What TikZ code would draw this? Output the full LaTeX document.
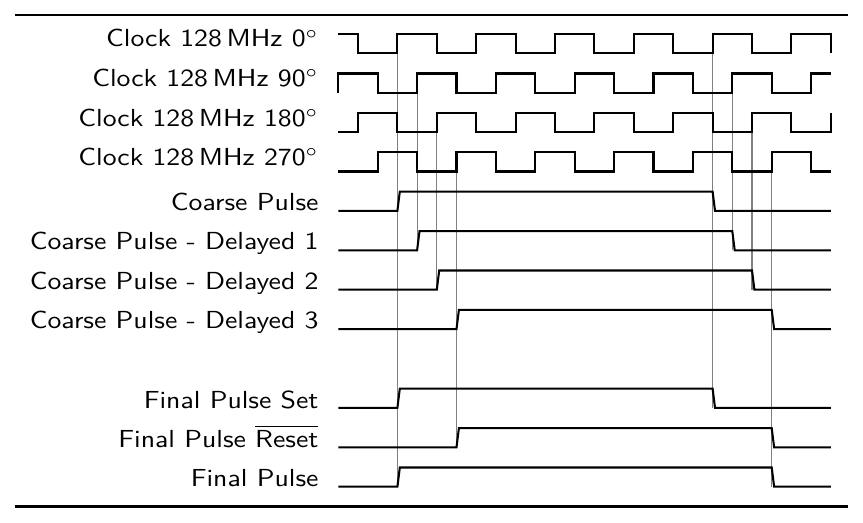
\documentclass[tikz,border=0pt]{standalone}
\usepackage{graphicx}
\begin{document}
\begin{tikzpicture}[x=0.365pt,y=-0.365pt,
  declare function={X(\k)=338.3+19.7*\k; L(\r)=53.3+39.4*\r; H(\r)=53.3+39.4*\r-19.2;},
  sig/.style={line width=0.75pt,line join=miter},
  guide/.style={line width=0.38pt,draw=black!50},
  rulet/.style={line width=0.75pt},
  ruleb/.style={line width=1pt},
  lab/.style={anchor=base east,inner sep=0pt,font=\sffamily}]
\useasboundingbox (0,0) rectangle (863,522);
\newcommand\squish[1]{\scalebox{1.013}[0.9]{#1}}
\newcommand\drawpulse[3]{\draw[sig] ({X(0)},{L(#1)}) -- ({X(#2)},{L(#1)}) -- ({X(#2)+2.4},{H(#1)}) -- ({X(#3)},{H(#1)}) -- ({X(#3)+2.4},{L(#1)}) -- ({X(25)},{L(#1)});}
% rules
\coordinate (tl) at (15,15); \coordinate (tr) at (848,15);
\coordinate (bl) at (15,506.3); \coordinate (br) at (848,506.3);
\draw[rulet] (tl) -- (tr);
\draw[ruleb] (bl) -- (br);
% guide lines
\draw[guide] ({X(3)},{L(0)}) -- ({X(3)},{L(11)});
\draw[guide] ({X(4)},{L(1)}) -- ({X(4)},{L(5)});
\draw[guide] ({X(5)},{L(2)}) -- ({X(5)},{L(6)});
\draw[guide] ({X(6)},{L(3)}) -- ({X(6)},{L(10)});
\draw[guide] ({X(19)},{L(0)}) -- ({X(19)},{L(9)});
\draw[guide] ({X(20)},{L(1)}) -- ({X(20)},{L(5)});
\draw[guide] ({X(21)},{L(2)}) -- ({X(21)},{L(6)});
\draw[guide] ({X(22)},{L(3)}) -- ({X(22)},{L(11)});
% clocks
\draw[sig] ({X(0)},{H(0)}) \foreach \k in {1,5,...,21} { -- ({X(\k)},{H(0)}) -- ({X(\k)},{L(0)}) -- ({X(\k+2)},{L(0)}) -- ({X(\k+2)},{H(0)}) } -- ({X(25)},{H(0)}) -- ({X(25)},{L(0)});
\draw[sig] ({X(0)},{L(1)}) -- ({X(0)},{H(1)}) \foreach \k in {2,6,...,22} { -- ({X(\k)},{H(1)}) -- ({X(\k)},{L(1)}) -- ({X(\k+2)},{L(1)}) -- ({X(\k+2)},{H(1)}) } -- ({X(25)},{H(1)});
\draw[sig] ({X(0)},{L(2)}) \foreach \k in {1,5,...,21} { -- ({X(\k)},{L(2)}) -- ({X(\k)},{H(2)}) -- ({X(\k+2)},{H(2)}) -- ({X(\k+2)},{L(2)}) } -- ({X(25)},{L(2)}) -- ({X(25)},{H(2)});
\draw[sig] ({X(0)},{L(3)}) \foreach \k in {2,6,...,22} { -- ({X(\k)},{L(3)}) -- ({X(\k)},{H(3)}) -- ({X(\k+2)},{H(3)}) -- ({X(\k+2)},{L(3)}) } -- ({X(25)},{L(3)});
% pulses
\drawpulse{4}{3}{19}
\drawpulse{5}{4}{20}
\drawpulse{6}{5}{21}
\drawpulse{7}{6}{22}
\drawpulse{9}{3}{19}
\drawpulse{10}{6}{22}
\drawpulse{11}{3}{22}
% labels
\node[lab] (l0) at (319,47) {\squish{Clock 128\,MHz 0$^\circ$}};
\node[lab] (l1) at (319,86.7) {\squish{Clock 128\,MHz 90$^\circ$}};
\node[lab] (l2) at (319,126.4) {\squish{Clock 128\,MHz 180$^\circ$}};
\node[lab] (l3) at (319,165.8) {\squish{Clock 128\,MHz 270$^\circ$}};
\node[lab] (l4) at (319,210) {\squish{Coarse Pulse}};
\node[lab] (l5) at (319,249.5) {\squish{Coarse Pulse - Delayed 1}};
\node[lab] (l6) at (319,289) {\squish{Coarse Pulse - Delayed 2}};
\node[lab] (l7) at (319,328.5) {\squish{Coarse Pulse - Delayed 3}};
\node[lab] (l9) at (319,408) {\squish{Final Pulse Set}};
\node[lab] (l10) at (319,447) {\squish{Final Pulse $\overline{\mbox{Reset}}$}};
\node[lab] (l11) at (319,486.5) {\squish{Final Pulse}};
\end{tikzpicture}
\end{document}
